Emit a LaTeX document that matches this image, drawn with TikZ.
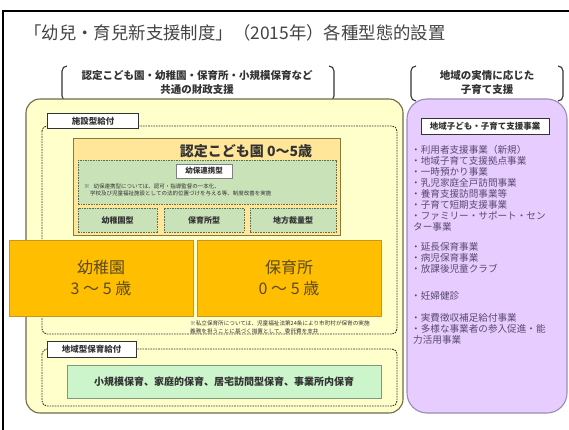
\documentclass[tikz,border=0pt]{standalone}
\usepackage{fontspec}
\setmainfont{Noto Sans CJK JP}
\newfontfamily\tcfont{Noto Sans CJK TC}
\usetikzlibrary{positioning}
\definecolor{cream}{HTML}{FFFFCC}
\definecolor{creamline}{HTML}{6E6A4A}
\definecolor{kodomo}{HTML}{FFE699}
\definecolor{kodomoline}{HTML}{8A7A3A}
\definecolor{greenfill}{HTML}{C9E2B8}
\definecolor{greenline}{HTML}{5E6E4E}
\definecolor{orangefill}{HTML}{FFBF00}
\definecolor{orangeline}{HTML}{C8961E}
\definecolor{orangetext}{HTML}{5A4A20}
\definecolor{mint}{HTML}{CCF5CC}
\definecolor{mintline}{HTML}{7E9A7E}
\definecolor{lav}{HTML}{E6CCFF}
\definecolor{lavline}{HTML}{9C8CB4}
\definecolor{lavtext}{HTML}{5A4A6E}
\definecolor{darktext}{HTML}{333333}
\definecolor{titletext}{HTML}{444444}
\tikzset{
  labelbox/.style={draw=darktext, fill=white, line width=0.8pt, inner sep=0pt, font=\bfseries\fontsize{8.5}{8.5}\selectfont, text=darktext},
  dashframe/.style={draw=darktext, dashed, dash pattern=on 1.6pt off 1pt, line width=0.9pt, rounded corners=5pt},
  subtype/.style={draw=greenline, fill=greenfill, dashed, dash pattern=on 1.6pt off 1pt, line width=0.8pt, inner sep=0pt, font=\bfseries\fontsize{8}{8}\selectfont, text=darktext},
  bigorange/.style={draw=orangeline, fill=orangefill, line width=0.8pt, inner sep=0pt, align=center, font=\fontsize{16}{21}\selectfont, text=orangetext},
  listtext/.style={anchor=west, inner sep=0pt, font=\fontsize{9.6}{9.6}\selectfont, text=lavtext},
  note/.style={anchor=west, inner sep=0pt, font=\fontsize{5.5}{5.5}\selectfont, text=darktext},
  bracket/.style={line width=1.1pt, draw=darktext},
}
\begin{document}
\begin{tikzpicture}[x=1pt,y=-1pt]
\useasboundingbox (0,0) rectangle (569,430);
\fill[white] (0,0) rectangle (569,430);
% outer frame
\draw[line width=1.6pt] (3,440) -- (3,11) -- (580,11);
% title
\node[anchor=west, inner sep=0pt, font=\tcfont\fontsize{17.4}{17.4}\selectfont, text=titletext] (title) at (24,33) {「幼兒・育兒新支援制度」（2015年）各種型態的設置};
% bracket groups
\draw[bracket] (67,66) to[out=180,in=90] (62,71) -- (62,96) to[out=270,in=180] (67,101);
\draw[bracket] (329,66) to[out=0,in=90] (334,71) -- (334,96) to[out=270,in=0] (329,101);
\node[inner sep=0pt, align=center, font=\bfseries\fontsize{10.5}{14}\selectfont, text=darktext] (common) at (197,83) {認定こども園・幼稚園・保育所・小規模保育など\\共通の財政支援};
\draw[bracket] (416,66) to[out=180,in=90] (411,71) -- (411,96) to[out=270,in=180] (416,101);
\draw[bracket] (558,66) to[out=0,in=90] (563,71) -- (563,96) to[out=270,in=0] (558,101);
\node[inner sep=0pt, align=center, font=\bfseries\fontsize{10.5}{14}\selectfont, text=darktext] (local) at (487,83) {地域の実情に応じた\\子育て支援};
% big yellow panel
\draw[draw=creamline, fill=cream, line width=1.1pt, rounded corners=14pt] (26,99) rectangle (403,413);
% purple panel
\draw[draw=lavline, fill=lav, line width=1.1pt, rounded corners=20pt] (407,99) rectangle (567,413);
% facility frame
\draw[dashframe] (42,126) rectangle (397,334);
\node[labelbox, minimum width=91pt, minimum height=15pt] (shisetsu) at (93,121) {施設型給付};
% kodomo-en
\node[draw=kodomoline, fill=kodomo, line width=0.9pt, minimum width=267pt, minimum height=97pt, inner sep=0pt] (kodomoen) at (206.5,186.5) {};
\node[inner sep=0pt, font=\bfseries\fontsize{14}{14}\selectfont, text=darktext] (kodomotitle) at (246,151) {認定こども園 0～5歳};
\node[subtype, minimum width=258pt, minimum height=44pt] (renkei) at (207,182) {};
\node[labelbox, draw=gray, line width=0.6pt, minimum width=56pt, minimum height=14pt, font=\bfseries\fontsize{7.5}{7.5}\selectfont] (renkeilabel) at (204,171) {幼保連携型};
\node[note] (note1) at (84,186.5) {※\hspace{4pt}幼保連携型については、認可・指導監督の一本化、};
\node[note] (note2) at (90,193.5) {学校及び児童福祉施設としての法的位置づけを与える等、制度改善を実施};
\node[subtype, minimum width=79pt, minimum height=24pt] (yochientype) at (117.5,220) {幼稚園型};
\node[subtype, minimum width=80pt, minimum height=24pt] (hoikushotype) at (204,220) {保育所型};
\node[subtype, minimum width=86pt, minimum height=24pt] (chihotype) at (293,220) {地方裁量型};
% orange boxes
\node[bigorange, minimum width=184pt, minimum height=76pt] (yochien) at (101,278) {幼稚園\\3 ～ 5 歳};
\node[bigorange, minimum width=184pt, minimum height=76pt] (hoikusho) at (289,278) {保育所\\0 ～ 5 歳};
\node[note, font=\fontsize{5.6}{5.6}\selectfont] (note3) at (190,323) {※私立保育所については、児童福祉法第24条により市町村が保育の実施};
\node[note, font=\fontsize{5.6}{5.6}\selectfont] (note4) at (190,331) {義務を担うことに基づく措置として、委託費を支弁};
% community frame
\draw[dashframe] (42,349) rectangle (397,406);
\node[labelbox, minimum width=89pt, minimum height=16pt] (chiiki) at (91.5,349) {地域型保育給付};
\node[draw=mintline, fill=mint, line width=0.9pt, minimum width=314pt, minimum height=33pt, inner sep=0pt, font=\bfseries\fontsize{10}{10}\selectfont, text=darktext] (small) at (224,381.5) {小規模保育、家庭的保育、居宅訪問型保育、事業所内保育};
% purple contents
\node[labelbox, minimum width=128pt, minimum height=16pt] (kosodate) at (485,126) {地域子ども・子育て支援事業};
\node[listtext] (l1) at (411,150) {・利用者支援事業（新規）};
\node[listtext] (l2) at (411,161) {・地域子育て支援拠点事業};
\node[listtext] (l3) at (411,172) {・一時預かり事業};
\node[listtext] (l4) at (411,183) {・乳児家庭全戸訪問事業};
\node[listtext] (l5) at (411,194) {・養育支援訪問事業等};
\node[listtext] (l6) at (411,205) {・子育て短期支援事業};
\node[listtext] (l7) at (411,216) {・ファミリー・サポート・セン};
\node[listtext] (l8) at (413,227) {ター事業};
\node[listtext] (l9) at (411,247) {・延長保育事業};
\node[listtext] (l10) at (411,258) {・病児保育事業};
\node[listtext] (l11) at (411,269) {・放課後児童クラブ};
\node[listtext] (l12) at (411,296) {・妊婦健診};
\node[listtext] (l13) at (411,318) {・実費徴収補足給付事業};
\node[listtext] (l14) at (411,329) {・多様な事業者の参入促進・能};
\node[listtext] (l15) at (413,340) {力活用事業};
\end{tikzpicture}
\end{document}
